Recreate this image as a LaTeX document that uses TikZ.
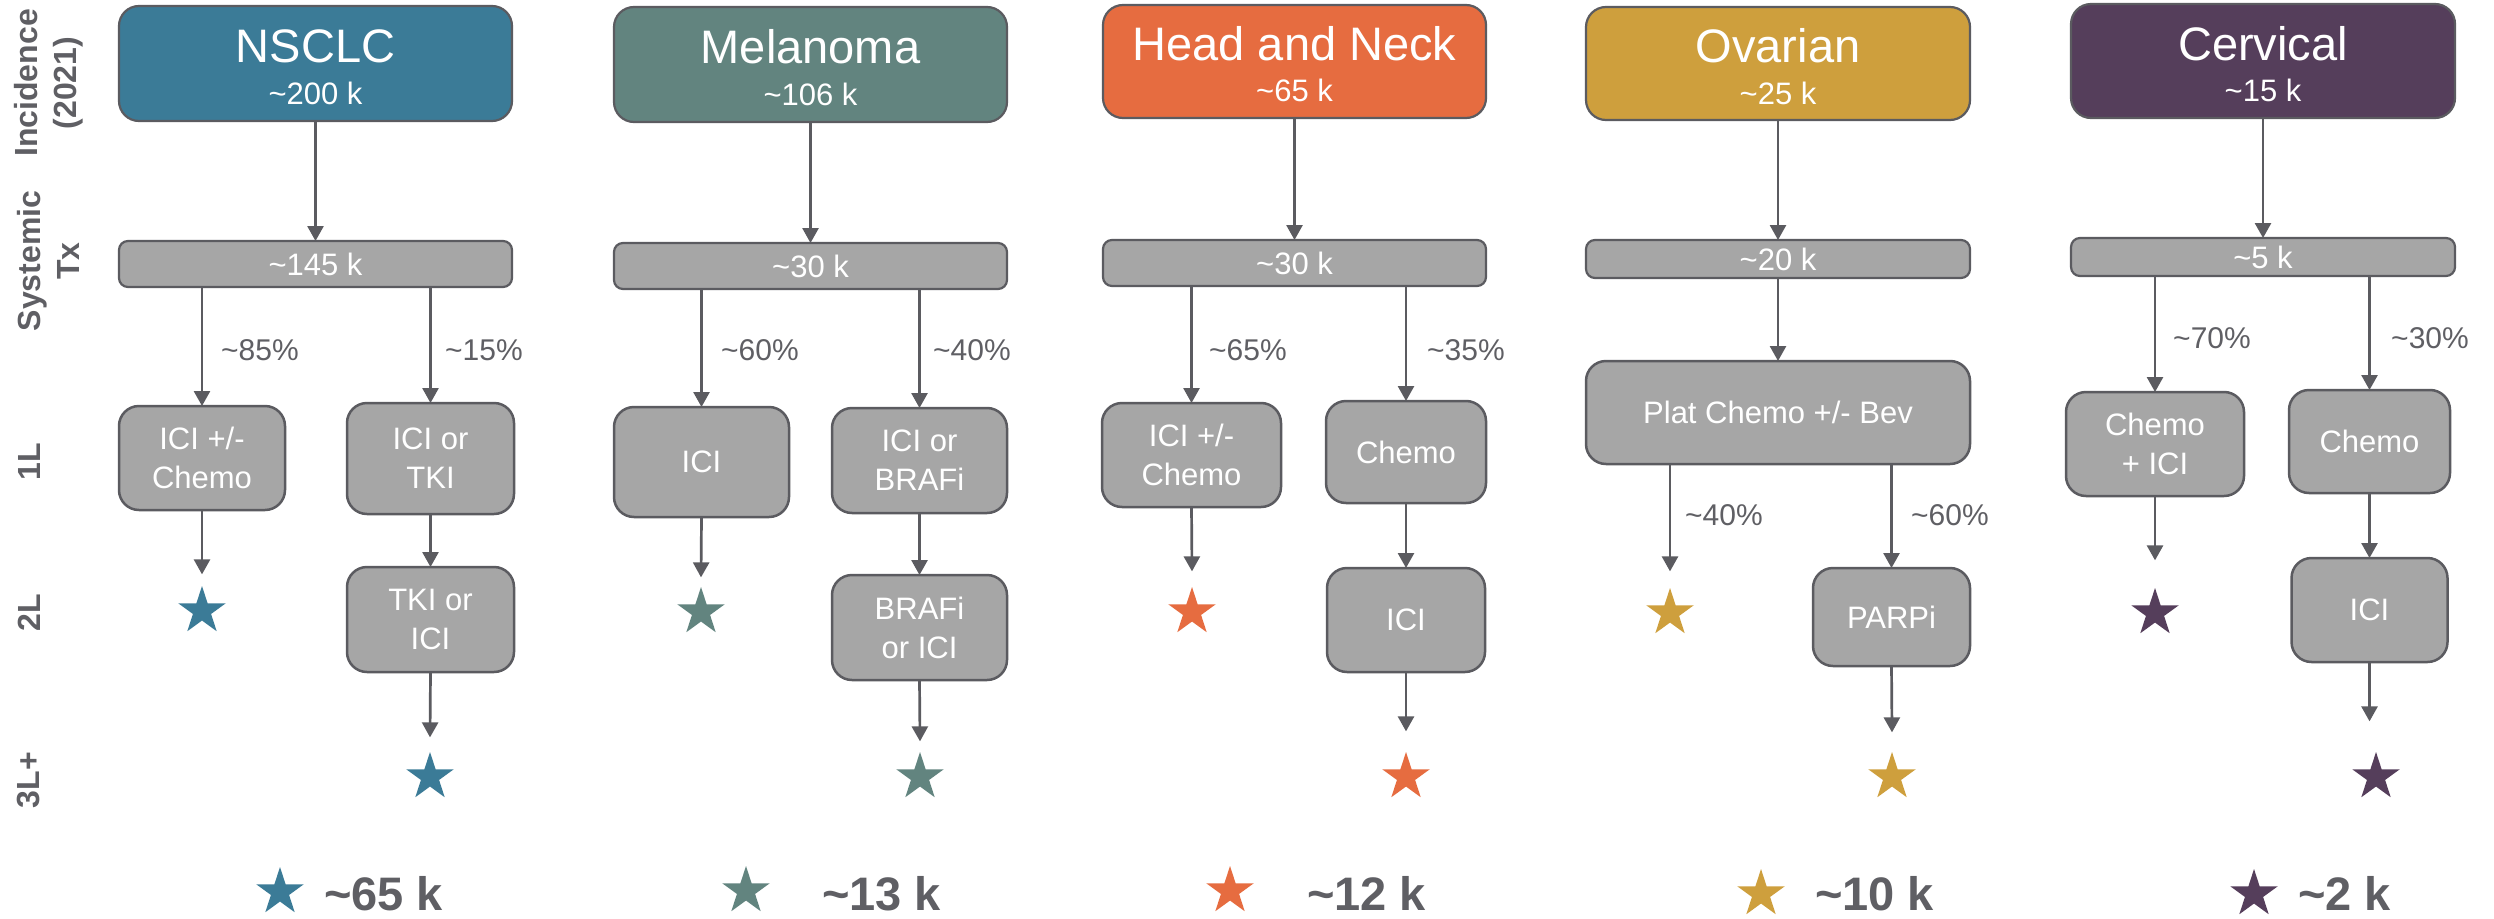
\documentclass[tikz,border=0pt]{standalone}
\usepackage{fontspec}
\setmainfont{Liberation Sans}
\usetikzlibrary{shapes.geometric,arrows.meta,calc}
\definecolor{cNS}{HTML}{3B7B97}
\definecolor{cME}{HTML}{62847F}
\definecolor{cHN}{HTML}{E66C40}
\definecolor{cOV}{HTML}{CE9F3D}
\definecolor{cCE}{HTML}{553E5B}
\definecolor{gfill}{HTML}{A6A6A6}
\definecolor{gline}{HTML}{5B5B60}
\definecolor{gtext}{HTML}{5F5F64}
\begin{document}
\begin{tikzpicture}[x=1pt,y=-1pt,
  hdrbox/.style={draw=gline,line width=2.2pt,rounded corners=20pt,inner sep=0pt,outer sep=0pt},
  ttl/.style={anchor=base,text=white,inner sep=0pt,font=\fontsize{47}{50}\selectfont},
  sub/.style={anchor=base,text=white,inner sep=0pt,font=\fontsize{31}{36}\selectfont},
  sysbox/.style={draw=gline,line width=2.2pt,fill=gfill,rounded corners=9pt,text=white,inner sep=0pt,outer sep=0pt,font=\fontsize{31}{37}\selectfont},
  gbox/.style={draw=gline,line width=2.5pt,fill=gfill,rounded corners=20pt,text=white,align=center,inner sep=0pt,outer sep=0pt,font=\fontsize{31}{39}\selectfont},
  arr/.style={draw=gline,line width=2.7pt,-{Triangle[width=16pt,length=15pt]}},
  pct/.style={text=gtext,anchor=west,inner sep=0pt,font=\fontsize{30}{36}\selectfont},
  side/.style={text=gtext,rotate=90,align=center,inner sep=0pt,font=\fontsize{32}{39}\selectfont\bfseries},
  strs/.style={star,star points=5,star point ratio=2.618,minimum size=50pt,inner sep=0pt,draw=none},
  tot/.style={text=gtext,anchor=base west,inner sep=0pt,font=\fontsize{47}{50}\selectfont\bfseries},
]
\fill[white] (0,0) rectangle (2494,918);
\useasboundingbox (0,0) rectangle (2494,918);

% side labels
\node[side] (lInc) at (49,83) {Incidence\\(2021)};
\node[side] (lSys) at (48,261) {Systemic\\Tx};
\node[side] (l1L) at (29,462) {1L};
\node[side] (l2L) at (29,613) {2L};
\node[side] (l3L) at (29,780) {3L+};

% ===== NSCLC =====
\node[hdrbox,fill=cNS,minimum width=393pt,minimum height=115pt] (h1) at (315.5,63.5) {};
\node[ttl] (h1t) at (315.5,62) {NSCLC};
\node[sub] (h1n) at (315.5,104) {\textasciitilde200 k};
\node[sysbox,minimum width=393pt,minimum height=46pt] (y1) at (315.5,264) {\textasciitilde145 k};
\node[gbox,minimum width=166pt,minimum height=104pt] (a1) at (202,458) {ICI +/-\\Chemo};
\node[gbox,minimum width=167pt,minimum height=111pt] (b1) at (430.5,458.5) {ICI or\\TKI};
\node[gbox,minimum width=167pt,minimum height=105pt] (c1) at (430.5,619.5) {TKI or\\ICI};
\node[strs,fill=cNS] (s1a) at (202,611) {};
\node[strs,fill=cNS] (s1b) at (430,777) {};
\node[pct] (p1a) at (221,350) {\textasciitilde85\%};
\node[pct] (p1b) at (445,350) {\textasciitilde15\%};
\draw[arr] (h1.south) -- (y1.north);
\draw[arr] (y1.south -| a1.north) -- (a1.north);
\draw[arr] (y1.south -| b1.north) -- (b1.north);
\draw[arr] (a1.south) -- ([yshift=11pt]s1a.north);
\draw[arr] (b1.south) -- (c1.north);
\draw[arr] (c1.south) -- ([yshift=14pt]s1b.north);
\node[strs,fill=cNS] (f1) at (280,892) {};
\node[tot] (t1) at (324,910) {\textasciitilde65 k};

% ===== Melanoma =====
\node[hdrbox,fill=cME,minimum width=393pt,minimum height=115pt] (h2) at (810.5,64.5) {};
\node[ttl] (h2t) at (810.5,63) {Melanoma};
\node[sub] (h2n) at (810.5,105) {\textasciitilde106 k};
\node[sysbox,minimum width=393pt,minimum height=46pt] (y2) at (810.5,266) {\textasciitilde30 k};
\node[gbox,minimum width=175pt,minimum height=110pt] (a2) at (701.5,462) {ICI};
\node[gbox,minimum width=175pt,minimum height=105pt] (b2) at (919.5,460.5) {ICI or\\BRAFi};
\node[gbox,minimum width=175pt,minimum height=105pt] (c2) at (919.5,627.5) {BRAFi\\or ICI};
\node[strs,fill=cME] (s2a) at (701,612) {};
\node[strs,fill=cME] (s2b) at (920,777) {};
\node[pct] (p2a) at (721,350) {\textasciitilde60\%};
\node[pct] (p2b) at (933,350) {\textasciitilde40\%};
\draw[arr] (h2.south) -- (y2.north);
\draw[arr] (y2.south -| a2.north) -- (a2.north);
\draw[arr] (y2.south -| b2.north) -- (b2.north);
\draw[arr] (a2.south) -- ([yshift=9pt]s2a.north);
\draw[arr] (b2.south) -- (c2.north);
\draw[arr] (c2.south) -- ([yshift=10pt]s2b.north);
\node[strs,fill=cME] (f2) at (746,891) {};
\node[tot] (t2) at (822,910) {\textasciitilde13 k};

% ===== Head and Neck =====
\node[hdrbox,fill=cHN,minimum width=383pt,minimum height=113pt] (h3) at (1294.5,61.5) {};
\node[ttl] (h3t) at (1294.5,60) {Head and Neck};
\node[sub] (h3n) at (1294.5,101) {\textasciitilde65 k};
\node[sysbox,minimum width=383pt,minimum height=46pt] (y3) at (1294.5,263) {\textasciitilde30 k};
\node[gbox,minimum width=179pt,minimum height=104pt] (a3) at (1191.5,455) {ICI +/-\\Chemo};
\node[gbox,minimum width=160pt,minimum height=102pt] (b3) at (1406,452) {Chemo};
\node[gbox,minimum width=158pt,minimum height=104pt] (c3) at (1406,620) {ICI};
\node[strs,fill=cHN] (s3a) at (1192,612) {};
\node[strs,fill=cHN] (s3b) at (1406,777) {};
\node[pct] (p3a) at (1209,350) {\textasciitilde65\%};
\node[pct] (p3b) at (1427,350) {\textasciitilde35\%};
\draw[arr] (h3.south) -- (y3.north);
\draw[arr] (y3.south -| a3.north) -- (a3.north);
\draw[arr] (y3.south -| b3.north) -- (b3.north);
\draw[arr] (a3.south) -- ([yshift=15pt]s3a.north);
\draw[arr] (b3.south) -- (c3.north);
\draw[arr] (c3.south) -- ([yshift=20pt]s3b.north);
\node[strs,fill=cHN] (f3) at (1230,891) {};
\node[tot] (t3) at (1307,910) {\textasciitilde12 k};

% ===== Ovarian =====
\node[hdrbox,fill=cOV,minimum width=384pt,minimum height=113pt] (h4) at (1778,63.5) {};
\node[ttl] (h4t) at (1778,62) {Ovarian};
\node[sub] (h4n) at (1778,104) {\textasciitilde25 k};
\node[sysbox,minimum width=384pt,minimum height=38pt] (y4) at (1778,259) {\textasciitilde20 k};
\node[gbox,minimum width=384pt,minimum height=103pt] (a4) at (1778,412.5) {Plat Chemo +/- Bev};
\node[gbox,minimum width=157pt,minimum height=98pt] (c4) at (1891.5,617) {PARPi};
\node[strs,fill=cOV] (s4a) at (1670,613) {};
\node[strs,fill=cOV] (s4b) at (1892,777) {};
\node[pct] (p4a) at (1685,515) {\textasciitilde40\%};
\node[pct] (p4b) at (1911,515) {\textasciitilde60\%};
\draw[arr] (h4.south) -- (y4.north);
\draw[arr] (y4.south) -- (a4.north);
\draw[arr] (a4.south -| s4a.north) -- ([yshift=16pt]s4a.north);
\draw[arr] (a4.south -| c4.north) -- (c4.north);
\draw[arr] (c4.south) -- ([yshift=19pt]s4b.north);
\node[strs,fill=cOV] (f4) at (1761,894) {};
\node[tot] (t4) at (1815,910) {\textasciitilde10 k};

% ===== Cervical =====
\node[hdrbox,fill=cCE,minimum width=384pt,minimum height=114pt] (h5) at (2263,61) {};
\node[ttl] (h5t) at (2263,60) {Cervical};
\node[sub] (h5n) at (2263,101) {\textasciitilde15 k};
\node[sysbox,minimum width=384pt,minimum height=38pt] (y5) at (2263,257) {\textasciitilde5 k};
\node[gbox,minimum width=178pt,minimum height=104pt] (a5) at (2155,444) {Chemo\\+ ICI};
\node[gbox,minimum width=161pt,minimum height=103pt] (b5) at (2369.5,441.5) {Chemo};
\node[gbox,minimum width=156pt,minimum height=104pt] (c5) at (2369.5,610) {ICI};
\node[strs,fill=cCE] (s5a) at (2155,613) {};
\node[strs,fill=cCE] (s5b) at (2376,777) {};
\node[pct] (p5a) at (2173,338) {\textasciitilde70\%};
\node[pct] (p5b) at (2391,338) {\textasciitilde30\%};
\draw[arr] (h5.south) -- (y5.north);
\draw[arr] (y5.south -| a5.north) -- (a5.north);
\draw[arr] (y5.south -| b5.north) -- (b5.north);
\draw[arr] (a5.south) -- ([yshift=27pt]s5a.north);
\draw[arr] (b5.south) -- (c5.north);
\draw[arr] (c5.south) -- ([yshift=30pt]c5.south |- s5b.north);
\node[strs,fill=cCE] (f5) at (2254,894) {};
\node[tot] (t5) at (2298,910) {\textasciitilde2 k};
\end{tikzpicture}
\end{document}
